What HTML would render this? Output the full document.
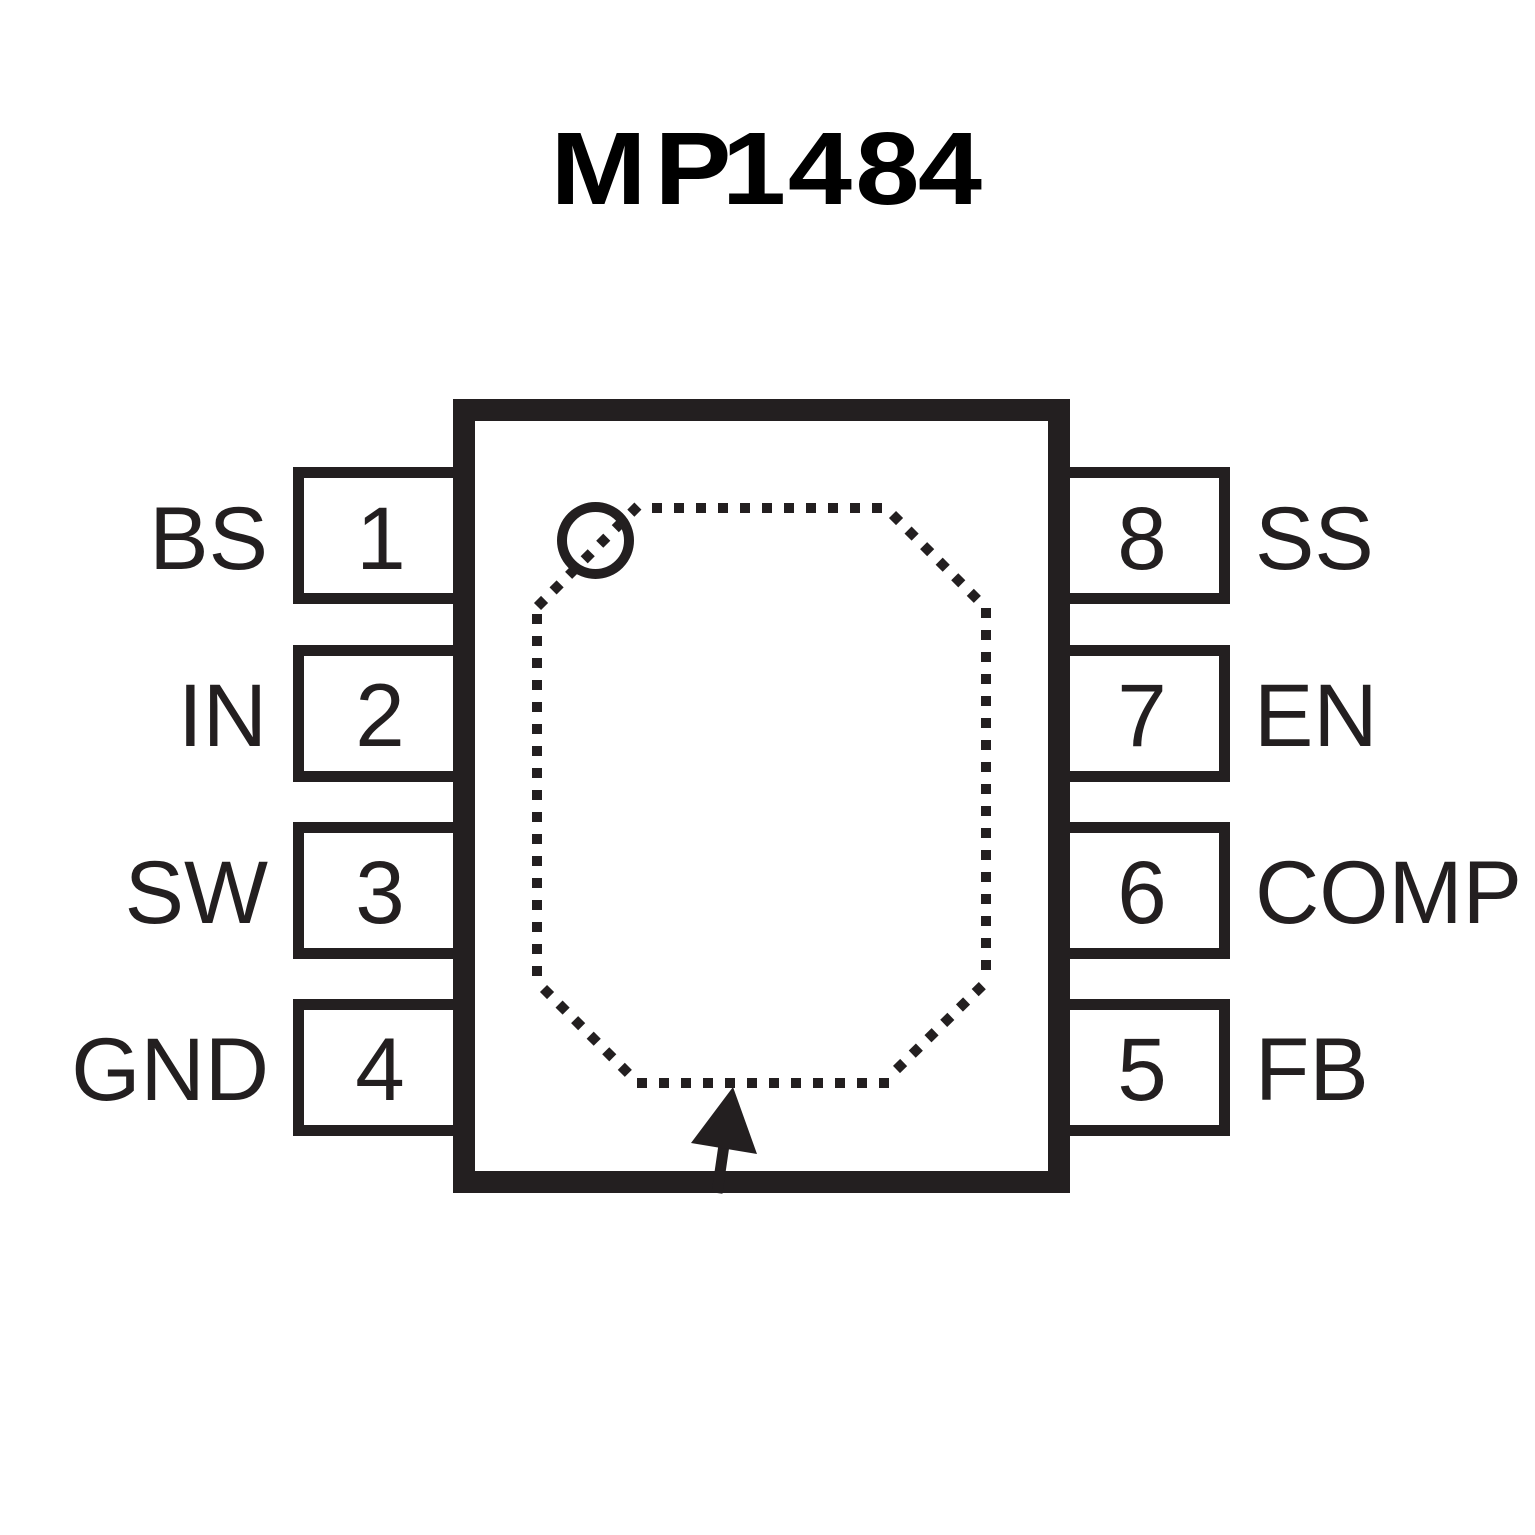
<!DOCTYPE html>
<html>
<head>
<meta charset="utf-8">
<style>
  html, body { margin:0; padding:0; background:#fff; }
  body { width:1535px; height:1535px; overflow:hidden; }
  svg { display:block; }
  .lbl { font-family:"Liberation Sans", Arial, sans-serif; font-size:89px; fill:#231f20; }
  .ttl { font-family:"Liberation Sans", Arial, sans-serif; font-size:103px; font-weight:bold; fill:#000; }
</style>
</head>
<body>
<svg width="1535" height="1535" viewBox="0 0 1535 1535" xmlns="http://www.w3.org/2000/svg">
  <rect x="0" y="0" width="1535" height="1535" fill="#fff"/>

  <!-- Title -->
  <g class="ttl" text-anchor="middle">
    <text transform="translate(598.5,204) scale(1.12,1)">M</text>
    <text transform="translate(693,204) scale(1.12,1)">P</text>
    <text transform="translate(754,204) scale(1.12,1)">1</text>
    <text transform="translate(820,204) scale(1.12,1)">4</text>
    <text transform="translate(887.5,204) scale(1.12,1)">8</text>
    <text transform="translate(950,204) scale(1.12,1)">4</text>
  </g>

  <!-- Left pin boxes -->
  <g fill="#fff" stroke="#231f20" stroke-width="11">
    <rect x="298.5" y="472.5" width="165" height="126"/>
    <rect x="298.5" y="650.5" width="165" height="126"/>
    <rect x="298.5" y="827.5" width="165" height="126"/>
    <rect x="298.5" y="1004.5" width="165" height="126"/>
    <!-- Right pin boxes -->
    <rect x="1060" y="472.5" width="164.5" height="126"/>
    <rect x="1060" y="650.5" width="164.5" height="126"/>
    <rect x="1060" y="827.5" width="164.5" height="126"/>
    <rect x="1060" y="1004.5" width="164.5" height="126"/>
  </g>

  <!-- Package body -->
  <rect x="464" y="410" width="595" height="772" fill="#fff" stroke="#231f20" stroke-width="22"/>

  <!-- Dotted outline -->
  <g stroke="#231f20" stroke-width="10" stroke-dasharray="10 12" fill="none" stroke-linecap="butt">
    <!-- top edge -->
    <line x1="652" y1="508" x2="884" y2="508"/>
    <!-- top-right diagonal -->
    <line x1="892.5" y1="514.5" x2="979" y2="601"/>
    <!-- right edge -->
    <line x1="986" y1="608" x2="986" y2="978"/>
    <!-- bottom-right diagonal -->
    <line x1="896.5" y1="1069.5" x2="984" y2="984"/>
    <!-- bottom edge -->
    <line x1="637" y1="1083" x2="894" y2="1083"/>
    <!-- bottom-left diagonal -->
    <line x1="543.5" y1="988.5" x2="629" y2="1074"/>
    <!-- left edge -->
    <line x1="537" y1="614" x2="537" y2="980"/>
    <!-- top-left diagonal (through circle) -->
    <line x1="537.5" y1="606.5" x2="638" y2="506"/>
  </g>

  <!-- Pin-1 circle -->
  <circle cx="595.5" cy="540.5" r="33.5" fill="none" stroke="#231f20" stroke-width="10"/>

  <!-- Arrow -->
  <line x1="724" y1="1145" x2="717" y2="1193" stroke="#231f20" stroke-width="11"/>
  <polygon points="733,1087 691,1143 757,1154" fill="#231f20"/>

  <!-- Left labels -->
  <g class="lbl" text-anchor="end">
    <text x="268" y="569">BS</text>
    <text x="267" y="746">IN</text>
    <text x="268" y="923">SW</text>
    <text x="269" y="1100">GND</text>
  </g>
  <!-- Left digits -->
  <g class="lbl" text-anchor="middle">
    <text x="381" y="569">1</text>
    <text x="380" y="746">2</text>
    <text x="380" y="923">3</text>
    <text x="380" y="1100">4</text>
    <text x="1142" y="569">8</text>
    <text x="1142" y="746">7</text>
    <text x="1142" y="923">6</text>
    <text x="1142" y="1100">5</text>
  </g>
  <!-- Right labels -->
  <g class="lbl" text-anchor="start">
    <text x="1255" y="569">SS</text>
    <text x="1254" y="746">EN</text>
    <text x="1255" y="923">COMP</text>
    <text x="1255" y="1100">FB</text>
  </g>
</svg>
</body>
</html>
